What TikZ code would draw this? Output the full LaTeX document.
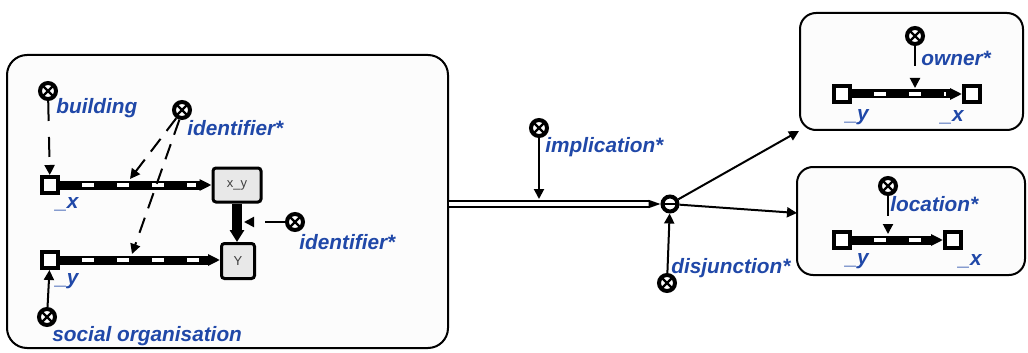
\documentclass[tikz,border=0pt]{standalone}
\usepackage{fontspec}
\setsansfont{Liberation Sans}
\usetikzlibrary{arrows.meta}
\definecolor{etikett}{RGB}{32,72,168}
\definecolor{kastengrau}{RGB}{232,232,232}

\def\balken#1#2{\draw[balken] #1 -- #2;}
\def\zeiger#1#2{\draw[zeiger] #1 -- #2;}

\begin{document}
\begin{tikzpicture}[x=0.5pt,y=-0.5pt,>={Triangle[length=5pt,width=5pt]},
  rahmen/.style={draw,line width=1pt,rounded corners=10pt,fill=gray!2,inner sep=0pt},
  knoten/.style={circle,draw,line width=2pt,fill=white,minimum size=8pt,inner sep=0pt,
    path picture={\draw[line width=1.2pt]
      (path picture bounding box.north west) -- (path picture bounding box.south east)
      (path picture bounding box.north east) -- (path picture bounding box.south west);}},
  weiche/.style={circle,draw,line width=2pt,fill=white,minimum size=7.5pt,inner sep=0pt,
    path picture={\draw[line width=1.2pt]
      (path picture bounding box.west) -- (path picture bounding box.east);}},
  feld/.style={draw,line width=2pt,fill=white,minimum size=8pt,inner sep=0pt},
  kasten/.style={draw,line width=1.5pt,fill=kastengrau,rounded corners=1.5pt,inner sep=0pt,
    font=\sffamily\fontsize{6.5}{7}\selectfont,text=black!75,
    path picture={\fill (path picture bounding box.north west) -- ++(4pt,0pt) -- ++(-4pt,-4pt) -- cycle;}},
  beschr/.style={text=etikett,font=\sffamily\bfseries\itshape\fontsize{10.4}{12}\selectfont,inner sep=0pt},
  balken/.style={line width=4.5pt,-{Triangle[length=6pt,width=5.5pt]},
    postaction={draw=white,line width=2.2pt,-,dash pattern=on 6pt off 11.5pt,
      shorten <=11pt,shorten >=8pt}},
  steg/.style={line width=5pt,-{Triangle[length=6pt,width=7pt]}},
  hohl/.style={line width=0.8pt,double=white,double distance=2.4pt,-{Triangle[length=6pt,width=4pt]}},
  zeiger/.style={line width=1pt,->},
  strichzeiger/.style={zeiger,dash pattern=on 10pt off 8pt},
  feinzeiger/.style={zeiger,dash pattern=on 8pt off 5pt}]
\useasboundingbox (0,0) rectangle (1028,353);

% Rahmen
\node[rahmen,minimum width=220.5pt,minimum height=146.5pt] (links) at (227.5,201.5) {};
\node[rahmen,minimum width=111.5pt,minimum height=58.5pt,rounded corners=8pt] (oben) at (911.5,71.5) {};
\node[rahmen,minimum width=114pt,minimum height=54pt,rounded corners=8pt] (unten) at (911,221) {};

% linker Rahmen
\node[knoten] (bau) at (48,91) {};
\node[beschr,anchor=west] (baul) at (56,108) {building};
\node[knoten] (idA) at (182,110) {};
\node[beschr,anchor=west] (idAl) at (187,128) {identifier*};
\node[feld] (sx) at (50,185) {};
\node[beschr] (sxl) at (67,204) {\_x};
\node[feld] (sy) at (50,260) {};
\node[beschr] (syl) at (67,281) {\_y};
\node[kasten,minimum width=24pt,minimum height=17pt] (xy) at (237,185) {x\_y};
\node[kasten,minimum width=16.5pt,minimum height=17.5pt] (Y) at (238,261) {Y};
\node[knoten] (idB) at (295,222) {};
\node[beschr,anchor=west] (idBl) at (299,242) {identifier*};
\node[knoten] (sozial) at (47,317) {};
\node[beschr,anchor=west] (sozl) at (52,336) {social organisation};

% Mitte
\node[weiche] (jn) at (670,204) {};
\node[knoten] (impl) at (539,128) {};
\node[beschr,anchor=west] (impll) at (545,147) {implication*};
\node[knoten] (disj) at (667,283) {};
\node[beschr,anchor=west] (disjl) at (671,268) {disjunction*};

% rechts oben
\node[knoten] (own) at (915,36) {};
\node[beschr,anchor=west] (ownl) at (921,58) {owner*};
\node[feld] (oy) at (842,94) {};
\node[feld] (ox) at (972,94) {};
\node[beschr] (oyl) at (857,117) {\_y};
\node[beschr] (oxl) at (952,117) {\_x};

% rechts unten
\node[knoten] (loc) at (888,186) {};
\node[beschr,anchor=west] (locl) at (890,204) {location*};
\node[feld] (uy) at (842,240) {};
\node[feld] (ux) at (953,240) {};
\node[beschr] (uyl) at (857,261) {\_y};
\node[beschr] (uxl) at (970,261) {\_x};

% Trefferpunkte
\coordinate (trA) at (130,179);
\coordinate (trB) at (132,254);
\coordinate (fahne) at (244,222);
\coordinate (trI) at (539,199);
\coordinate (trU) at (797,213);
\coordinate (trO) at (915,88);
\coordinate (trL) at (888,234);

% Balken
\balken{(sx)}{(xy)}
\balken{(sy.east)}{(Y.west |- sy)}
\balken{(oy)}{(ox)}
\balken{(uy)}{(ux)}
\draw[steg] (xy.south) -- (xy.south |- Y.north);
\draw[hohl] (links.east |- jn) -- (jn);

% Pfeile
\draw[strichzeiger] (bau) -- (sx);
\draw[feinzeiger] (idA.235) -- (trA);
\draw[feinzeiger] (idA.255) -- (trB);
\draw[strichzeiger] (idB) -- (fahne);
\zeiger{(sozial)}{(sy)}
\zeiger{(impl)}{(trI)}
\zeiger{(disj)}{(jn)}
\zeiger{(jn)}{(oben.south west)}
\zeiger{(jn)}{(trU)}
\draw[strichzeiger] (own) -- (trO);
\draw[strichzeiger] (loc) -- (trL);
\end{tikzpicture}
\end{document}
